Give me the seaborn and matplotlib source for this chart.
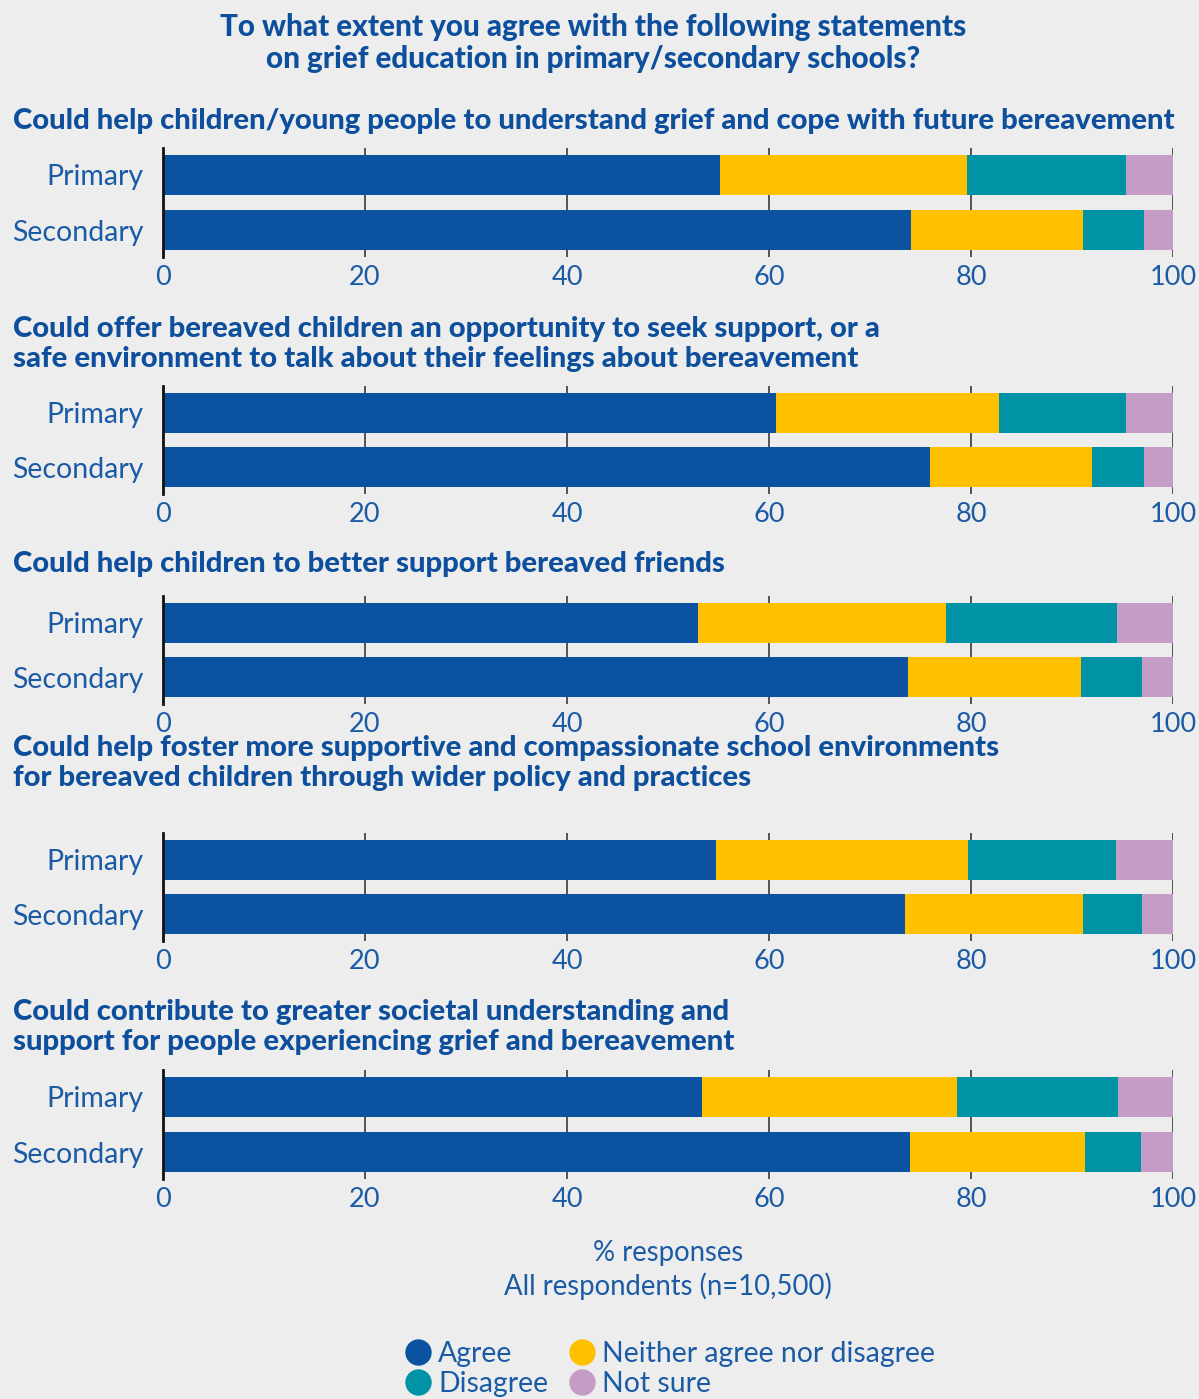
import matplotlib
matplotlib.use("Agg")
import matplotlib.pyplot as plt
from matplotlib.lines import Line2D
import seaborn as sns
import pandas as pd

# ---- data -------------------------------------------------------------
statements = [
    "Could help children/young people to understand grief and cope with future bereavement",
    "Could offer bereaved children an opportunity to seek support, or a\nsafe environment to talk about their feelings about bereavement",
    "Could help children to better support bereaved friends",
    "Could help foster more supportive and compassionate school environments\nfor bereaved children through wider policy and practices",
    "Could contribute to greater societal understanding and\nsupport for people experiencing grief and bereavement",
]
levels = ["Primary", "Secondary"]
responses = ["Agree", "Neither agree nor disagree", "Disagree", "Not sure"]

agree_primary = [55.1, 60.7, 53.0, 54.8, 53.4]
agree_secondary = [74.1, 75.9, 73.8, 73.5, 74.0]
neither_primary = [24.5, 22.1, 24.5, 24.9, 25.2]
neither_secondary = [17.0, 16.1, 17.1, 17.6, 17.3]
disagree_primary = [15.7, 12.5, 17.0, 14.7, 16.0]
disagree_secondary = [6.0, 5.1, 6.0, 5.8, 5.5]
notsure_primary = [4.7, 4.7, 5.5, 5.6, 5.4]
notsure_secondary = [2.9, 2.9, 3.1, 3.1, 3.2]

xticks = [0, 20, 40, 60, 80, 100]

# ---- styling ----------------------------------------------------------
BG = "#ededed"
NAVY = "#0d4f9c"
TEXT = "#1b5ba6"
colors = {
    "Agree": "#0b53a0",
    "Neither agree nor disagree": "#ffc000",
    "Disagree": "#0093a6",
    "Not sure": "#c49cc6",
}

sns.set_theme(style="whitegrid")
plt.rcParams["font.family"] = ["Lato", "DejaVu Sans"]

rows = []
values = {
    "Agree": (agree_primary, agree_secondary),
    "Neither agree nor disagree": (neither_primary, neither_secondary),
    "Disagree": (disagree_primary, disagree_secondary),
    "Not sure": (notsure_primary, notsure_secondary),
}
for i, stmt in enumerate(statements):
    for j, lvl in enumerate(levels):
        cum = 0.0
        for r in responses:
            v = values[r][j][i]
            cum += v
            rows.append({"statement": i, "level": lvl, "response": r,
                         "value": v, "cum": cum})
df = pd.DataFrame(rows)

W, H = 1199, 1399
fig = plt.figure(figsize=(W / 100, H / 100), dpi=100, facecolor=BG)

# axes extents in pixels (top, bottom)
panel_px = [(148, 257), (386, 494), (596, 704), (833, 941), (1070, 1179)]
title_px = [121, 344, 564, 763, 1027]
ax_left, ax_right = 163, 1173

for i, (top, bottom) in enumerate(panel_px):
    ax = fig.add_axes([ax_left / W, 1 - bottom / H,
                       (ax_right - ax_left) / W, (bottom - top) / H])
    ax.set_facecolor(BG)
    sub = df[df["statement"] == i]
    # stacked bars: draw cumulative totals from the outermost layer inward
    for r in reversed(responses):
        part = sub[sub["response"] == r]
        sns.barplot(data=part, x="cum", y="level", order=levels,
                    color=colors[r], saturation=1, width=0.727,
                    errorbar=None, orient="h", linewidth=0, ax=ax)
    ax.set_xlim(0, 100)
    ax.set_ylim(1.49, -0.49)
    ax.set_xticks(xticks)
    ax.set_xticklabels([str(t) for t in xticks])
    ax.set_xlabel("")
    ax.set_ylabel("")
    ax.set_axisbelow(True)
    ax.grid(axis="x", color="#2a2a2a", linewidth=1.1)
    ax.grid(axis="y", visible=False)
    for s in ["top", "right", "bottom"]:
        ax.spines[s].set_visible(False)
    ax.spines["left"].set_visible(True)
    ax.spines["left"].set_color("#111111")
    ax.spines["left"].set_linewidth(2)
    ax.tick_params(axis="x", length=0, pad=6, labelsize=19.5, labelcolor=TEXT)
    ax.tick_params(axis="y", length=0, pad=14, labelsize=20.5, labelcolor=TEXT)

    fig.text(13 / W, 1 - title_px[i] / H, statements[i], ha="left",
             va="center", fontsize=21.1, fontweight=900, color=NAVY,
             linespacing=1.2)

# main title
fig.text(593 / W, 1 - 43 / H,
         "To what extent you agree with the following statements\n"
         "on grief education in primary/secondary schools?",
         ha="center", va="center", fontsize=21.3, fontweight=900,
         color=NAVY, linespacing=1.2)

# axis caption
fig.text(668 / W, 1 - 1270 / H,
         "% responses\nAll respondents (n=10,500)",
         ha="center", va="center", fontsize=19.8, color=TEXT, linespacing=1.25)

# legend
order = ["Agree", "Disagree", "Neither agree nor disagree", "Not sure"]
handles = [Line2D([], [], marker="o", linestyle="", markersize=19,
                  markerfacecolor=colors[r], markeredgewidth=0)
           for r in order]
leg = fig.legend(handles, order, ncol=2, loc="center",
                 bbox_to_anchor=(668 / W, 1 - 1369 / H), frameon=False,
                 fontsize=20.4, handletextpad=0.1, columnspacing=0.6,
                 labelspacing=0.15, handlelength=1.2, borderpad=0)
for t in leg.get_texts():
    t.set_color(TEXT)

fig.savefig("out.png", dpi=100, facecolor=BG)
